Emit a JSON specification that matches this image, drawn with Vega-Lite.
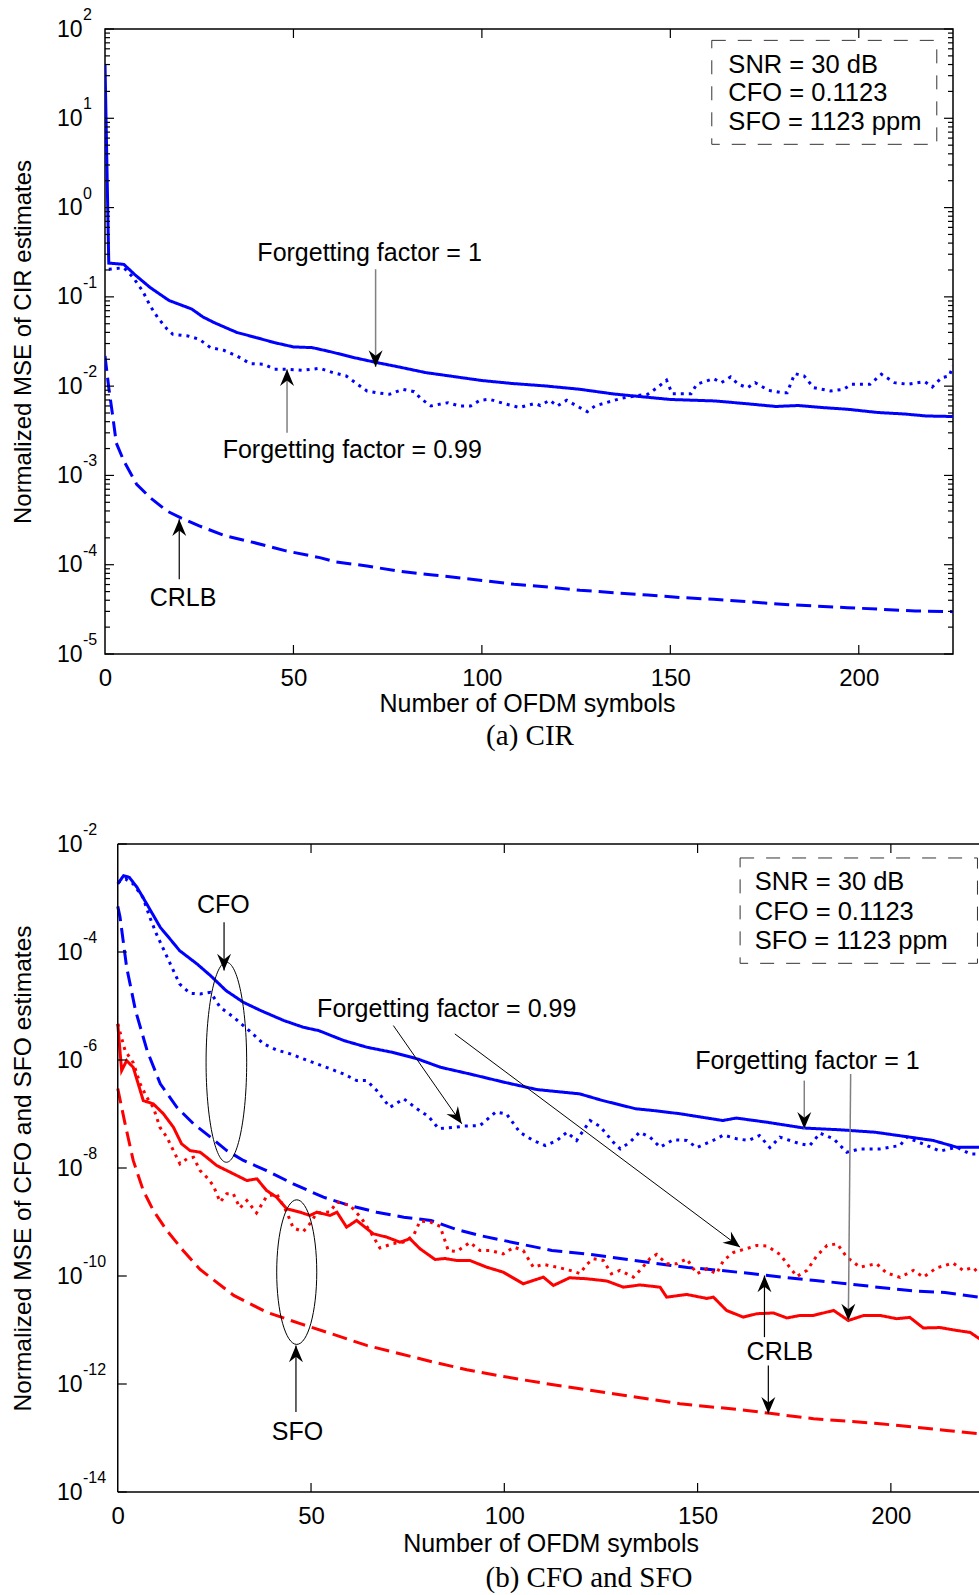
{
  "$schema": "https://vega.github.io/schema/vega-lite/v6.json",
  "background": "white",
  "padding": {"left": 10, "top": 6, "right": 0, "bottom": 0},
  "config": {
    "view": {"stroke": null},
    "font": "Liberation Sans",
    "axis": {"grid": false, "ticks": false, "domain": false, "labelFont": "Liberation Sans", "labelFontSize": 24, "labelColor": "black", "titleFont": "Liberation Sans", "titleFontSize": 24, "titleFontWeight": "normal", "titleColor": "black", "labelFlush": false, "labelOverlap": false},
    "text": {"font": "Liberation Sans", "fontSize": 25, "color": "black"},
    "tick": {"opacity": 1, "color": "black", "thickness": 1.2}
  },
  "columns": 1,
  "align": "none",
  "spacing": 70,
  "datasets": {
    "cir": [
      {"est":"ff1","x":0,"y":40.5},{"est":"ff1","x":1,"y":0.239},{"est":"ff1","x":5,"y":0.231},{"est":"ff1","x":8,"y":0.176},{"est":"ff1","x":12,"y":0.127},{"est":"ff1","x":17,"y":0.091},{"est":"ff1","x":23,"y":0.0731},{"est":"ff1","x":26,"y":0.0595},{"est":"ff1","x":29,"y":0.0514},{"est":"ff1","x":35,"y":0.0399},{"est":"ff1","x":40,"y":0.0351},{"est":"ff1","x":45,"y":0.0307},{"est":"ff1","x":50,"y":0.0275},{"est":"ff1","x":55,"y":0.027},{"est":"ff1","x":60,"y":0.0242},{"est":"ff1","x":66,"y":0.0209},{"est":"ff1","x":72,"y":0.0184},{"est":"ff1","x":78,"y":0.0164},{"est":"ff1","x":85,"y":0.0142},{"est":"ff1","x":92,"y":0.0129},{"est":"ff1","x":100,"y":0.01156},{"est":"ff1","x":108,"y":0.01071},{"est":"ff1","x":117,"y":0.01004},{"est":"ff1","x":126,"y":0.00922},{"est":"ff1","x":135,"y":0.00817},{"est":"ff1","x":143,"y":0.00757},{"est":"ff1","x":150,"y":0.00709},{"est":"ff1","x":158,"y":0.00691},{"est":"ff1","x":162,"y":0.00682},{"est":"ff1","x":170,"y":0.00637},{"est":"ff1","x":178,"y":0.00592},{"est":"ff1","x":184,"y":0.00607},{"est":"ff1","x":190,"y":0.00577},{"est":"ff1","x":197,"y":0.00551},{"est":"ff1","x":205,"y":0.00507},{"est":"ff1","x":212,"y":0.00488},{"est":"ff1","x":218,"y":0.00463},{"est":"ff1","x":225,"y":0.00457},
      {"est":"ff099","x":1,"y":0.204},{"est":"ff099","x":5,"y":0.212},{"est":"ff099","x":7.5,"y":0.164},{"est":"ff099","x":10,"y":0.116},{"est":"ff099","x":12,"y":0.0791},{"est":"ff099","x":14,"y":0.0585},{"est":"ff099","x":16.5,"y":0.0434},{"est":"ff099","x":18,"y":0.0381},{"est":"ff099","x":22,"y":0.0365},{"est":"ff099","x":25,"y":0.0335},{"est":"ff099","x":28,"y":0.027},{"est":"ff099","x":31.5,"y":0.0252},{"est":"ff099","x":35,"y":0.0218},{"est":"ff099","x":38.5,"y":0.0179},{"est":"ff099","x":42,"y":0.0176},{"est":"ff099","x":45,"y":0.0155},{"est":"ff099","x":48,"y":0.0155},{"est":"ff099","x":52.5,"y":0.01507},{"est":"ff099","x":57,"y":0.01585},{"est":"ff099","x":60.5,"y":0.01416},{"est":"ff099","x":64,"y":0.013},{"est":"ff099","x":67,"y":0.0105},{"est":"ff099","x":69.5,"y":0.00883},{"est":"ff099","x":72,"y":0.00845},{"est":"ff099","x":75.5,"y":0.00811},{"est":"ff099","x":79,"y":0.00922},{"est":"ff099","x":82,"y":0.00867},{"est":"ff099","x":84,"y":0.00713},{"est":"ff099","x":86.5,"y":0.006},{"est":"ff099","x":91,"y":0.00653},{"est":"ff099","x":94,"y":0.006},{"est":"ff099","x":97,"y":0.006},{"est":"ff099","x":99.5,"y":0.00695},{"est":"ff099","x":102,"y":0.00713},{"est":"ff099","x":106.5,"y":0.00627},{"est":"ff099","x":110,"y":0.00577},{"est":"ff099","x":114,"y":0.0064},{"est":"ff099","x":115.5,"y":0.00607},{"est":"ff099","x":118,"y":0.00695},{"est":"ff099","x":120,"y":0.006},{"est":"ff099","x":122.5,"y":0.00695},{"est":"ff099","x":126,"y":0.00574},{"est":"ff099","x":128,"y":0.00518},{"est":"ff099","x":130,"y":0.006},{"est":"ff099","x":133,"y":0.00653},{"est":"ff099","x":137,"y":0.00731},{"est":"ff099","x":140.5,"y":0.00776},{"est":"ff099","x":144,"y":0.00811},{"est":"ff099","x":146.5,"y":0.00962},{"est":"ff099","x":149,"y":0.01164},{"est":"ff099","x":150.5,"y":0.00824},{"est":"ff099","x":153,"y":0.00824},{"est":"ff099","x":155.5,"y":0.00824},{"est":"ff099","x":157,"y":0.0105},{"est":"ff099","x":161.5,"y":0.01213},{"est":"ff099","x":163.5,"y":0.01094},{"est":"ff099","x":166,"y":0.01268},{"est":"ff099","x":168,"y":0.0105},{"est":"ff099","x":170.5,"y":0.00962},{"est":"ff099","x":172.5,"y":0.01094},{"est":"ff099","x":176,"y":0.00899},{"est":"ff099","x":179.5,"y":0.00845},{"est":"ff099","x":181,"y":0.00845},{"est":"ff099","x":183,"y":0.0138},{"est":"ff099","x":185.5,"y":0.013},{"est":"ff099","x":188,"y":0.00962},{"est":"ff099","x":192.5,"y":0.00883},{"est":"ff099","x":196,"y":0.00922},{"est":"ff099","x":198,"y":0.0105},{"est":"ff099","x":203,"y":0.0105},{"est":"ff099","x":206,"y":0.0136},{"est":"ff099","x":209.5,"y":0.01094},{"est":"ff099","x":213,"y":0.0105},{"est":"ff099","x":217.5,"y":0.01122},{"est":"ff099","x":219.5,"y":0.00979},{"est":"ff099","x":222,"y":0.01245},{"est":"ff099","x":224,"y":0.013},{"est":"ff099","x":225,"y":0.0168},
      {"est":"crlb","x":0,"y":0.0218},{"est":"crlb","x":1,"y":0.0096},{"est":"crlb","x":2,"y":0.0048},{"est":"crlb","x":3,"y":0.0023},{"est":"crlb","x":5,"y":0.00145},{"est":"crlb","x":8.4,"y":0.000796},{"est":"crlb","x":12,"y":0.000564},{"est":"crlb","x":16.4,"y":0.0004},{"est":"crlb","x":20,"y":0.000337},{"est":"crlb","x":25,"y":0.000272},{"est":"crlb","x":32,"y":0.00021},{"est":"crlb","x":39.5,"y":0.000177},{"est":"crlb","x":48,"y":0.000143},{"est":"crlb","x":57,"y":0.00012},{"est":"crlb","x":61,"y":0.000108},{"est":"crlb","x":69.5,"y":9.68e-5},{"est":"crlb","x":77.5,"y":8.51e-5},{"est":"crlb","x":87,"y":7.68e-5},{"est":"crlb","x":100,"y":6.67e-5},{"est":"crlb","x":108.5,"y":6.04e-5},{"est":"crlb","x":117.5,"y":5.64e-5},{"est":"crlb","x":126,"y":5.18e-5},{"est":"crlb","x":135,"y":4.86e-5},{"est":"crlb","x":144,"y":4.58e-5},{"est":"crlb","x":153,"y":4.28e-5},{"est":"crlb","x":161.5,"y":4.1e-5},{"est":"crlb","x":170.5,"y":3.85e-5},{"est":"crlb","x":179.5,"y":3.61e-5},{"est":"crlb","x":188,"y":3.45e-5},{"est":"crlb","x":197,"y":3.3e-5},{"est":"crlb","x":206,"y":3.17e-5},{"est":"crlb","x":215,"y":3.03e-5},{"est":"crlb","x":225,"y":2.98e-5}
    ],
    "cirTicks": [
      {"side":"left","kind":"major","x":0,"y":1e-5},{"side":"left","kind":"major","x":0,"y":1e-4},{"side":"left","kind":"major","x":0,"y":0.001},{"side":"left","kind":"major","x":0,"y":0.01},{"side":"left","kind":"major","x":0,"y":0.1},{"side":"left","kind":"major","x":0,"y":1},{"side":"left","kind":"major","x":0,"y":10},{"side":"left","kind":"major","x":0,"y":100},
      {"side":"right","kind":"major","x":225,"y":1e-5},{"side":"right","kind":"major","x":225,"y":1e-4},{"side":"right","kind":"major","x":225,"y":0.001},{"side":"right","kind":"major","x":225,"y":0.01},{"side":"right","kind":"major","x":225,"y":0.1},{"side":"right","kind":"major","x":225,"y":1},{"side":"right","kind":"major","x":225,"y":10},{"side":"right","kind":"major","x":225,"y":100},
      {"side":"left","kind":"minor","x":0,"y":2e-5},{"side":"left","kind":"minor","x":0,"y":3e-5},{"side":"left","kind":"minor","x":0,"y":4e-5},{"side":"left","kind":"minor","x":0,"y":5e-5},{"side":"left","kind":"minor","x":0,"y":6e-5},{"side":"left","kind":"minor","x":0,"y":7e-5},{"side":"left","kind":"minor","x":0,"y":8e-5},{"side":"left","kind":"minor","x":0,"y":9e-5},
      {"side":"left","kind":"minor","x":0,"y":2e-4},{"side":"left","kind":"minor","x":0,"y":3e-4},{"side":"left","kind":"minor","x":0,"y":4e-4},{"side":"left","kind":"minor","x":0,"y":5e-4},{"side":"left","kind":"minor","x":0,"y":6e-4},{"side":"left","kind":"minor","x":0,"y":7e-4},{"side":"left","kind":"minor","x":0,"y":8e-4},{"side":"left","kind":"minor","x":0,"y":9e-4},
      {"side":"left","kind":"minor","x":0,"y":0.002},{"side":"left","kind":"minor","x":0,"y":0.003},{"side":"left","kind":"minor","x":0,"y":0.004},{"side":"left","kind":"minor","x":0,"y":0.005},{"side":"left","kind":"minor","x":0,"y":0.006},{"side":"left","kind":"minor","x":0,"y":0.007},{"side":"left","kind":"minor","x":0,"y":0.008},{"side":"left","kind":"minor","x":0,"y":0.009},
      {"side":"left","kind":"minor","x":0,"y":0.02},{"side":"left","kind":"minor","x":0,"y":0.03},{"side":"left","kind":"minor","x":0,"y":0.04},{"side":"left","kind":"minor","x":0,"y":0.05},{"side":"left","kind":"minor","x":0,"y":0.06},{"side":"left","kind":"minor","x":0,"y":0.07},{"side":"left","kind":"minor","x":0,"y":0.08},{"side":"left","kind":"minor","x":0,"y":0.09},
      {"side":"left","kind":"minor","x":0,"y":0.2},{"side":"left","kind":"minor","x":0,"y":0.3},{"side":"left","kind":"minor","x":0,"y":0.4},{"side":"left","kind":"minor","x":0,"y":0.5},{"side":"left","kind":"minor","x":0,"y":0.6},{"side":"left","kind":"minor","x":0,"y":0.7},{"side":"left","kind":"minor","x":0,"y":0.8},{"side":"left","kind":"minor","x":0,"y":0.9},
      {"side":"left","kind":"minor","x":0,"y":2},{"side":"left","kind":"minor","x":0,"y":3},{"side":"left","kind":"minor","x":0,"y":4},{"side":"left","kind":"minor","x":0,"y":5},{"side":"left","kind":"minor","x":0,"y":6},{"side":"left","kind":"minor","x":0,"y":7},{"side":"left","kind":"minor","x":0,"y":8},{"side":"left","kind":"minor","x":0,"y":9},
      {"side":"left","kind":"minor","x":0,"y":20},{"side":"left","kind":"minor","x":0,"y":30},{"side":"left","kind":"minor","x":0,"y":40},{"side":"left","kind":"minor","x":0,"y":50},{"side":"left","kind":"minor","x":0,"y":60},{"side":"left","kind":"minor","x":0,"y":70},{"side":"left","kind":"minor","x":0,"y":80},{"side":"left","kind":"minor","x":0,"y":90},
      {"side":"right","kind":"minor","x":225,"y":2e-5},{"side":"right","kind":"minor","x":225,"y":3e-5},{"side":"right","kind":"minor","x":225,"y":4e-5},{"side":"right","kind":"minor","x":225,"y":5e-5},{"side":"right","kind":"minor","x":225,"y":6e-5},{"side":"right","kind":"minor","x":225,"y":7e-5},{"side":"right","kind":"minor","x":225,"y":8e-5},{"side":"right","kind":"minor","x":225,"y":9e-5},
      {"side":"right","kind":"minor","x":225,"y":2e-4},{"side":"right","kind":"minor","x":225,"y":3e-4},{"side":"right","kind":"minor","x":225,"y":4e-4},{"side":"right","kind":"minor","x":225,"y":5e-4},{"side":"right","kind":"minor","x":225,"y":6e-4},{"side":"right","kind":"minor","x":225,"y":7e-4},{"side":"right","kind":"minor","x":225,"y":8e-4},{"side":"right","kind":"minor","x":225,"y":9e-4},
      {"side":"right","kind":"minor","x":225,"y":0.002},{"side":"right","kind":"minor","x":225,"y":0.003},{"side":"right","kind":"minor","x":225,"y":0.004},{"side":"right","kind":"minor","x":225,"y":0.005},{"side":"right","kind":"minor","x":225,"y":0.006},{"side":"right","kind":"minor","x":225,"y":0.007},{"side":"right","kind":"minor","x":225,"y":0.008},{"side":"right","kind":"minor","x":225,"y":0.009},
      {"side":"right","kind":"minor","x":225,"y":0.02},{"side":"right","kind":"minor","x":225,"y":0.03},{"side":"right","kind":"minor","x":225,"y":0.04},{"side":"right","kind":"minor","x":225,"y":0.05},{"side":"right","kind":"minor","x":225,"y":0.06},{"side":"right","kind":"minor","x":225,"y":0.07},{"side":"right","kind":"minor","x":225,"y":0.08},{"side":"right","kind":"minor","x":225,"y":0.09},
      {"side":"right","kind":"minor","x":225,"y":0.2},{"side":"right","kind":"minor","x":225,"y":0.3},{"side":"right","kind":"minor","x":225,"y":0.4},{"side":"right","kind":"minor","x":225,"y":0.5},{"side":"right","kind":"minor","x":225,"y":0.6},{"side":"right","kind":"minor","x":225,"y":0.7},{"side":"right","kind":"minor","x":225,"y":0.8},{"side":"right","kind":"minor","x":225,"y":0.9},
      {"side":"right","kind":"minor","x":225,"y":2},{"side":"right","kind":"minor","x":225,"y":3},{"side":"right","kind":"minor","x":225,"y":4},{"side":"right","kind":"minor","x":225,"y":5},{"side":"right","kind":"minor","x":225,"y":6},{"side":"right","kind":"minor","x":225,"y":7},{"side":"right","kind":"minor","x":225,"y":8},{"side":"right","kind":"minor","x":225,"y":9},
      {"side":"right","kind":"minor","x":225,"y":20},{"side":"right","kind":"minor","x":225,"y":30},{"side":"right","kind":"minor","x":225,"y":40},{"side":"right","kind":"minor","x":225,"y":50},{"side":"right","kind":"minor","x":225,"y":60},{"side":"right","kind":"minor","x":225,"y":70},{"side":"right","kind":"minor","x":225,"y":80},{"side":"right","kind":"minor","x":225,"y":90},
      {"side":"bottom","kind":"major","x":50,"y":1e-5},{"side":"bottom","kind":"major","x":100,"y":1e-5},{"side":"bottom","kind":"major","x":150,"y":1e-5},{"side":"bottom","kind":"major","x":200,"y":1e-5},
      {"side":"top","kind":"major","x":50,"y":100},{"side":"top","kind":"major","x":100,"y":100},{"side":"top","kind":"major","x":150,"y":100},{"side":"top","kind":"major","x":200,"y":100}
    ],
    "cirExp": [
      {"x":0,"y":1e-5,"exp":"-5"},{"x":0,"y":1e-4,"exp":"-4"},{"x":0,"y":0.001,"exp":"-3"},{"x":0,"y":0.01,"exp":"-2"},
      {"x":0,"y":0.1,"exp":"-1"},{"x":0,"y":1,"exp":"0"},{"x":0,"y":10,"exp":"1"},{"x":0,"y":100,"exp":"2"}
    ],
    "cirBox": [{"x":161,"x2":220.7,"y":74.6,"y2":5.11}],
    "cirInfo": [
      {"x":165.4,"y":32.4,"label":"SNR = 30 dB"},
      {"x":165.4,"y":15.5,"label":"CFO = 0.1123"},
      {"x":165.4,"y":7.4,"label":"SFO = 1123 ppm"}
    ],
    "cirNotes": [
      {"x":70.2,"y":0.252,"label":"Forgetting factor = 1"},
      {"x":65.6,"y":0.00158,"label":"Forgetting factor = 0.99"},
      {"x":20.7,"y":3.45e-5,"label":"CRLB"}
    ],
    "cirArrows": [
      {"arrow":"ff1","end":"tail","x":71.8,"y":0.204},{"arrow":"ff1","end":"tip","x":71.8,"y":0.0164},
      {"arrow":"ff099","end":"tail","x":48.3,"y":0.00301},{"arrow":"ff099","end":"tip","x":48.3,"y":0.01545},
      {"arrow":"crlb","end":"tail","x":19.7,"y":6.87e-5},{"arrow":"crlb","end":"tip","x":19.7,"y":3.23e-4}
    ],
    "cfosfo": [
      {"param":"CFO","est":"ff1","x":0,"y":1.82e-3},{"param":"CFO","est":"ff1","x":1.5,"y":2.59e-3},{"param":"CFO","est":"ff1","x":3,"y":2.41e-3},{"param":"CFO","est":"ff1","x":5,"y":1.57e-3},{"param":"CFO","est":"ff1","x":7.5,"y":7.76e-4},{"param":"CFO","est":"ff1","x":11,"y":2.86e-4},{"param":"CFO","est":"ff1","x":13.5,"y":1.75e-4},{"param":"CFO","est":"ff1","x":16,"y":1.06e-4},{"param":"CFO","est":"ff1","x":20.5,"y":6.01e-5},{"param":"CFO","est":"ff1","x":24,"y":3.65e-5},{"param":"CFO","est":"ff1","x":28,"y":1.93e-5},{"param":"CFO","est":"ff1","x":32.5,"y":1.17e-5},{"param":"CFO","est":"ff1","x":37,"y":8.22e-6},{"param":"CFO","est":"ff1","x":43,"y":5.37e-6},{"param":"CFO","est":"ff1","x":48,"y":4.04e-6},{"param":"CFO","est":"ff1","x":52,"y":3.5e-6},{"param":"CFO","est":"ff1","x":58.5,"y":2.29e-6},{"param":"CFO","est":"ff1","x":64.5,"y":1.72e-6},{"param":"CFO","est":"ff1","x":71,"y":1.39e-6},{"param":"CFO","est":"ff1","x":77.5,"y":1.05e-6},{"param":"CFO","est":"ff1","x":83.5,"y":7.33e-7},{"param":"CFO","est":"ff1","x":91,"y":5.53e-7},{"param":"CFO","est":"ff1","x":100,"y":3.87e-7},{"param":"CFO","est":"ff1","x":108.5,"y":2.83e-7},{"param":"CFO","est":"ff1","x":119.5,"y":2.36e-7},{"param":"CFO","est":"ff1","x":125.5,"y":1.77e-7},{"param":"CFO","est":"ff1","x":134,"y":1.25e-7},{"param":"CFO","est":"ff1","x":138.5,"y":1.16e-7},{"param":"CFO","est":"ff1","x":145.5,"y":1.01e-7},{"param":"CFO","est":"ff1","x":156.5,"y":7.57e-8},{"param":"CFO","est":"ff1","x":160,"y":8.41e-8},{"param":"CFO","est":"ff1","x":168,"y":7.03e-8},{"param":"CFO","est":"ff1","x":177.5,"y":5.5e-8},{"param":"CFO","est":"ff1","x":187,"y":5.09e-8},{"param":"CFO","est":"ff1","x":196,"y":4.59e-8},{"param":"CFO","est":"ff1","x":205,"y":3.72e-8},{"param":"CFO","est":"ff1","x":211,"y":3.23e-8},{"param":"CFO","est":"ff1","x":217,"y":2.43e-8},{"param":"CFO","est":"ff1","x":225,"y":2.43e-8},
      {"param":"CFO","est":"ff099","x":0,"y":1.95e-3},{"param":"CFO","est":"ff099","x":2,"y":2.25e-3},{"param":"CFO","est":"ff099","x":4,"y":1.82e-3},{"param":"CFO","est":"ff099","x":6.5,"y":1.03e-3},{"param":"CFO","est":"ff099","x":8.3,"y":4.38e-4},{"param":"CFO","est":"ff099","x":10,"y":2.16e-4},{"param":"CFO","est":"ff099","x":12,"y":1.06e-4},{"param":"CFO","est":"ff099","x":14,"y":5.2e-5},{"param":"CFO","est":"ff099","x":16,"y":2.56e-5},{"param":"CFO","est":"ff099","x":18.7,"y":1.72e-5},{"param":"CFO","est":"ff099","x":21.3,"y":1.67e-5},{"param":"CFO","est":"ff099","x":24,"y":1.79e-5},{"param":"CFO","est":"ff099","x":26.5,"y":9.46e-6},{"param":"CFO","est":"ff099","x":30,"y":6.18e-6},{"param":"CFO","est":"ff099","x":34,"y":3.5e-6},{"param":"CFO","est":"ff099","x":37.7,"y":1.99e-6},{"param":"CFO","est":"ff099","x":41,"y":1.54e-6},{"param":"CFO","est":"ff099","x":44.6,"y":1.3e-6},{"param":"CFO","est":"ff099","x":48,"y":1.05e-6},{"param":"CFO","est":"ff099","x":51.5,"y":8.48e-7},{"param":"CFO","est":"ff099","x":55,"y":6.85e-7},{"param":"CFO","est":"ff099","x":58.4,"y":5.53e-7},{"param":"CFO","est":"ff099","x":61.8,"y":4.16e-7},{"param":"CFO","est":"ff099","x":64.4,"y":4.16e-7},{"param":"CFO","est":"ff099","x":67,"y":2.72e-7},{"param":"CFO","est":"ff099","x":70.4,"y":1.33e-7},{"param":"CFO","est":"ff099","x":74,"y":1.91e-7},{"param":"CFO","est":"ff099","x":77.4,"y":1.25e-7},{"param":"CFO","est":"ff099","x":80.4,"y":8.97e-8},{"param":"CFO","est":"ff099","x":83,"y":5.38e-8},{"param":"CFO","est":"ff099","x":86.6,"y":5.61e-8},{"param":"CFO","est":"ff099","x":89.7,"y":5.98e-8},{"param":"CFO","est":"ff099","x":93.7,"y":6.11e-8},{"param":"CFO","est":"ff099","x":97.8,"y":1.09e-7},{"param":"CFO","est":"ff099","x":100.6,"y":9.98e-8},{"param":"CFO","est":"ff099","x":104,"y":4.59e-8},{"param":"CFO","est":"ff099","x":107.5,"y":3.23e-8},{"param":"CFO","est":"ff099","x":110.6,"y":2.61e-8},{"param":"CFO","est":"ff099","x":113.6,"y":3.23e-8},{"param":"CFO","est":"ff099","x":116.2,"y":4.59e-8},{"param":"CFO","est":"ff099","x":118.7,"y":3.23e-8},{"param":"CFO","est":"ff099","x":122.2,"y":7.57e-8},{"param":"CFO","est":"ff099","x":124.8,"y":5.86e-8},{"param":"CFO","est":"ff099","x":128.2,"y":3.0e-8},{"param":"CFO","est":"ff099","x":130,"y":2.26e-8},{"param":"CFO","est":"ff099","x":132.5,"y":3.0e-8},{"param":"CFO","est":"ff099","x":135,"y":4.59e-8},{"param":"CFO","est":"ff099","x":137.7,"y":3.72e-8},{"param":"CFO","est":"ff099","x":140.3,"y":2.43e-8},{"param":"CFO","est":"ff099","x":143.7,"y":3.33e-8},{"param":"CFO","est":"ff099","x":147.2,"y":3.23e-8},{"param":"CFO","est":"ff099","x":149.8,"y":2.39e-8},{"param":"CFO","est":"ff099","x":154,"y":3.23e-8},{"param":"CFO","est":"ff099","x":156.7,"y":4.07e-8},{"param":"CFO","est":"ff099","x":160.2,"y":3.47e-8},{"param":"CFO","est":"ff099","x":163.2,"y":3.23e-8},{"param":"CFO","est":"ff099","x":166,"y":3.99e-8},{"param":"CFO","est":"ff099","x":168.7,"y":2.39e-8},{"param":"CFO","est":"ff099","x":171.3,"y":3.72e-8},{"param":"CFO","est":"ff099","x":176.5,"y":2.81e-8},{"param":"CFO","est":"ff099","x":179,"y":2.61e-8},{"param":"CFO","est":"ff099","x":181.7,"y":4.4e-8},{"param":"CFO","est":"ff099","x":185.2,"y":3.47e-8},{"param":"CFO","est":"ff099","x":188.6,"y":1.96e-8},{"param":"CFO","est":"ff099","x":192,"y":2.26e-8},{"param":"CFO","est":"ff099","x":197.2,"y":2.26e-8},{"param":"CFO","est":"ff099","x":202.4,"y":2.61e-8},{"param":"CFO","est":"ff099","x":204,"y":3.72e-8},{"param":"CFO","est":"ff099","x":209.3,"y":2.61e-8},{"param":"CFO","est":"ff099","x":212.7,"y":2.05e-8},{"param":"CFO","est":"ff099","x":217,"y":2.43e-8},{"param":"CFO","est":"ff099","x":220.5,"y":1.83e-8},{"param":"CFO","est":"ff099","x":225,"y":1.8e-8},
      {"param":"CFO","est":"crlb","x":0,"y":7.0e-4},{"param":"CFO","est":"crlb","x":0.6,"y":4.38e-4},{"param":"CFO","est":"crlb","x":2.3,"y":5.2e-5},{"param":"CFO","est":"crlb","x":4.6,"y":8.22e-6},{"param":"CFO","est":"crlb","x":7.6,"y":1.49e-6},{"param":"CFO","est":"crlb","x":11,"y":3.61e-7},{"param":"CFO","est":"crlb","x":15.3,"y":1.33e-7},{"param":"CFO","est":"crlb","x":19.6,"y":6.57e-8},{"param":"CFO","est":"crlb","x":24,"y":3.72e-8},{"param":"CFO","est":"crlb","x":28.2,"y":2.1e-8},{"param":"CFO","est":"crlb","x":32.5,"y":1.38e-8},{"param":"CFO","est":"crlb","x":38.5,"y":8.98e-9},{"param":"CFO","est":"crlb","x":45.4,"y":5.09e-9},{"param":"CFO","est":"crlb","x":53.2,"y":2.88e-9},{"param":"CFO","est":"crlb","x":60,"y":2.02e-9},{"param":"CFO","est":"crlb","x":67,"y":1.52e-9},{"param":"CFO","est":"crlb","x":74,"y":1.23e-9},{"param":"CFO","est":"crlb","x":81,"y":1.07e-9},{"param":"CFO","est":"crlb","x":87.7,"y":7.26e-10},{"param":"CFO","est":"crlb","x":93.7,"y":5.62e-10},{"param":"CFO","est":"crlb","x":103.5,"y":4.0e-10},{"param":"CFO","est":"crlb","x":112.3,"y":2.97e-10},{"param":"CFO","est":"crlb","x":121.2,"y":2.56e-10},{"param":"CFO","est":"crlb","x":130,"y":2.11e-10},{"param":"CFO","est":"crlb","x":138.6,"y":1.73e-10},{"param":"CFO","est":"crlb","x":147.4,"y":1.44e-10},{"param":"CFO","est":"crlb","x":155.8,"y":1.27e-10},{"param":"CFO","est":"crlb","x":163.8,"y":1.11e-10},{"param":"CFO","est":"crlb","x":172.5,"y":9.4e-11},{"param":"CFO","est":"crlb","x":180.5,"y":8.26e-11},{"param":"CFO","est":"crlb","x":189.2,"y":7.13e-11},{"param":"CFO","est":"crlb","x":197.2,"y":6.14e-11},{"param":"CFO","est":"crlb","x":206,"y":5.28e-11},{"param":"CFO","est":"crlb","x":214,"y":4.95e-11},{"param":"CFO","est":"crlb","x":222.8,"y":4.06e-11},{"param":"CFO","est":"crlb","x":225,"y":3.9e-11},
      {"param":"SFO","est":"ff1","x":0,"y":4.67e-6},{"param":"SFO","est":"ff1","x":1,"y":6.37e-7},{"param":"SFO","est":"ff1","x":2.3,"y":9.75e-7},{"param":"SFO","est":"ff1","x":4,"y":7.33e-7},{"param":"SFO","est":"ff1","x":6.6,"y":1.77e-7},{"param":"SFO","est":"ff1","x":9.2,"y":1.54e-7},{"param":"SFO","est":"ff1","x":11.8,"y":1.01e-7},{"param":"SFO","est":"ff1","x":14.4,"y":5.69e-8},{"param":"SFO","est":"ff1","x":16.5,"y":2.81e-8},{"param":"SFO","est":"ff1","x":18.7,"y":2.1e-8},{"param":"SFO","est":"ff1","x":21.3,"y":1.96e-8},{"param":"SFO","est":"ff1","x":23,"y":1.58e-8},{"param":"SFO","est":"ff1","x":25.6,"y":1.11e-8},{"param":"SFO","est":"ff1","x":28.2,"y":8.98e-9},{"param":"SFO","est":"ff1","x":30.8,"y":7.26e-9},{"param":"SFO","est":"ff1","x":33.4,"y":5.86e-9},{"param":"SFO","est":"ff1","x":36,"y":6.31e-9},{"param":"SFO","est":"ff1","x":38.5,"y":3.83e-9},{"param":"SFO","est":"ff1","x":41.1,"y":2.88e-9},{"param":"SFO","est":"ff1","x":43.7,"y":1.75e-9},{"param":"SFO","est":"ff1","x":47.2,"y":1.52e-9},{"param":"SFO","est":"ff1","x":49.7,"y":1.32e-9},{"param":"SFO","est":"ff1","x":51.5,"y":1.52e-9},{"param":"SFO","est":"ff1","x":54.9,"y":1.32e-9},{"param":"SFO","est":"ff1","x":56.7,"y":1.52e-9},{"param":"SFO","est":"ff1","x":59.2,"y":8.02e-10},{"param":"SFO","est":"ff1","x":61.8,"y":1.07e-9},{"param":"SFO","est":"ff1","x":66.1,"y":6.05e-10},{"param":"SFO","est":"ff1","x":69.6,"y":5.24e-10},{"param":"SFO","est":"ff1","x":73,"y":4.23e-10},{"param":"SFO","est":"ff1","x":75.6,"y":4.89e-10},{"param":"SFO","est":"ff1","x":78.2,"y":3.19e-10},{"param":"SFO","est":"ff1","x":82.1,"y":2.02e-10},{"param":"SFO","est":"ff1","x":84.6,"y":2.11e-10},{"param":"SFO","est":"ff1","x":87.7,"y":1.94e-10},{"param":"SFO","est":"ff1","x":91.1,"y":1.94e-10},{"param":"SFO","est":"ff1","x":95.4,"y":1.46e-10},{"param":"SFO","est":"ff1","x":99.7,"y":1.18e-10},{"param":"SFO","est":"ff1","x":104.9,"y":7.18e-11},{"param":"SFO","est":"ff1","x":110.1,"y":9.53e-11},{"param":"SFO","est":"ff1","x":112.7,"y":6.68e-11},{"param":"SFO","est":"ff1","x":116.9,"y":9.27e-11},{"param":"SFO","est":"ff1","x":121.3,"y":8.89e-11},{"param":"SFO","est":"ff1","x":126.5,"y":8.09e-11},{"param":"SFO","est":"ff1","x":130.8,"y":6.21e-11},{"param":"SFO","est":"ff1","x":135.1,"y":6.83e-11},{"param":"SFO","est":"ff1","x":140.3,"y":6.21e-11},{"param":"SFO","est":"ff1","x":142,"y":4.06e-11},{"param":"SFO","est":"ff1","x":147.2,"y":4.55e-11},{"param":"SFO","est":"ff1","x":152.4,"y":3.84e-11},{"param":"SFO","est":"ff1","x":154.1,"y":4.06e-11},{"param":"SFO","est":"ff1","x":157.5,"y":2.3e-11},{"param":"SFO","est":"ff1","x":161.8,"y":1.73e-11},{"param":"SFO","est":"ff1","x":165.3,"y":2.0e-11},{"param":"SFO","est":"ff1","x":169.6,"y":2.07e-11},{"param":"SFO","est":"ff1","x":173.1,"y":1.67e-11},{"param":"SFO","est":"ff1","x":176.5,"y":1.86e-11},{"param":"SFO","est":"ff1","x":179.9,"y":1.86e-11},{"param":"SFO","est":"ff1","x":185.2,"y":2.3e-11},{"param":"SFO","est":"ff1","x":189,"y":1.5e-11},{"param":"SFO","est":"ff1","x":193,"y":1.86e-11},{"param":"SFO","est":"ff1","x":197.2,"y":1.86e-11},{"param":"SFO","est":"ff1","x":201.5,"y":1.62e-11},{"param":"SFO","est":"ff1","x":204.9,"y":1.71e-11},{"param":"SFO","est":"ff1","x":208.4,"y":1.09e-11},{"param":"SFO","est":"ff1","x":212.7,"y":1.11e-11},{"param":"SFO","est":"ff1","x":217,"y":9.82e-12},{"param":"SFO","est":"ff1","x":220.5,"y":9.02e-12},{"param":"SFO","est":"ff1","x":222.8,"y":6.98e-12},{"param":"SFO","est":"ff1","x":225,"y":6.5e-12},
      {"param":"SFO","est":"ff099","x":0,"y":4.67e-6},{"param":"SFO","est":"ff099","x":1.9,"y":1.49e-6},{"param":"SFO","est":"ff099","x":4,"y":8.95e-7},{"param":"SFO","est":"ff099","x":5.8,"y":3.61e-7},{"param":"SFO","est":"ff099","x":7.5,"y":2.04e-7},{"param":"SFO","est":"ff099","x":9.2,"y":1.33e-7},{"param":"SFO","est":"ff099","x":10.9,"y":5.69e-8},{"param":"SFO","est":"ff099","x":12.7,"y":3.72e-8},{"param":"SFO","est":"ff099","x":14.4,"y":2.1e-8},{"param":"SFO","est":"ff099","x":16.1,"y":1.19e-8},{"param":"SFO","est":"ff099","x":17.9,"y":1.48e-8},{"param":"SFO","est":"ff099","x":19.6,"y":1.58e-8},{"param":"SFO","est":"ff099","x":21.3,"y":8.98e-9},{"param":"SFO","est":"ff099","x":23,"y":6.75e-9},{"param":"SFO","est":"ff099","x":24.7,"y":4.74e-9},{"param":"SFO","est":"ff099","x":26.5,"y":2.34e-9},{"param":"SFO","est":"ff099","x":28.2,"y":3.33e-9},{"param":"SFO","est":"ff099","x":29.9,"y":3.33e-9},{"param":"SFO","est":"ff099","x":31.6,"y":1.82e-9},{"param":"SFO","est":"ff099","x":33.4,"y":2.5e-9},{"param":"SFO","est":"ff099","x":35.9,"y":1.47e-9},{"param":"SFO","est":"ff099","x":38.5,"y":2.96e-9},{"param":"SFO","est":"ff099","x":41.1,"y":3.33e-9},{"param":"SFO","est":"ff099","x":43.7,"y":1.53e-9},{"param":"SFO","est":"ff099","x":45.4,"y":7.74e-10},{"param":"SFO","est":"ff099","x":48,"y":6.67e-10},{"param":"SFO","est":"ff099","x":49.7,"y":9.27e-10},{"param":"SFO","est":"ff099","x":51.5,"y":1.47e-9},{"param":"SFO","est":"ff099","x":54.9,"y":1.53e-9},{"param":"SFO","est":"ff099","x":56.7,"y":2.34e-9},{"param":"SFO","est":"ff099","x":60.1,"y":2.02e-9},{"param":"SFO","est":"ff099","x":63.1,"y":1.16e-9},{"param":"SFO","est":"ff099","x":66.1,"y":5.4e-10},{"param":"SFO","est":"ff099","x":67.8,"y":3.3e-10},{"param":"SFO","est":"ff099","x":71.3,"y":4.0e-10},{"param":"SFO","est":"ff099","x":73.9,"y":4.23e-10},{"param":"SFO","est":"ff099","x":76.5,"y":5.62e-10},{"param":"SFO","est":"ff099","x":78.2,"y":1.04e-9},{"param":"SFO","est":"ff099","x":80.8,"y":1.0e-9},{"param":"SFO","est":"ff099","x":83.4,"y":8.26e-10},{"param":"SFO","est":"ff099","x":85.5,"y":2.97e-10},{"param":"SFO","est":"ff099","x":87.7,"y":2.84e-10},{"param":"SFO","est":"ff099","x":91.1,"y":4.18e-10},{"param":"SFO","est":"ff099","x":93.7,"y":2.97e-10},{"param":"SFO","est":"ff099","x":96.3,"y":2.97e-10},{"param":"SFO","est":"ff099","x":99.7,"y":2.56e-10},{"param":"SFO","est":"ff099","x":102.5,"y":3.42e-10},{"param":"SFO","est":"ff099","x":104.9,"y":2.97e-10},{"param":"SFO","est":"ff099","x":107.5,"y":1.46e-10},{"param":"SFO","est":"ff099","x":110.1,"y":1.64e-10},{"param":"SFO","est":"ff099","x":113.6,"y":1.46e-10},{"param":"SFO","est":"ff099","x":117,"y":1.27e-10},{"param":"SFO","est":"ff099","x":119.6,"y":1.11e-10},{"param":"SFO","est":"ff099","x":121.3,"y":1.64e-10},{"param":"SFO","est":"ff099","x":123.1,"y":2.08e-10},{"param":"SFO","est":"ff099","x":125.6,"y":1.94e-10},{"param":"SFO","est":"ff099","x":127.7,"y":1.1e-10},{"param":"SFO","est":"ff099","x":129.9,"y":1.27e-10},{"param":"SFO","est":"ff099","x":133.4,"y":9.53e-11},{"param":"SFO","est":"ff099","x":135.1,"y":1.27e-10},{"param":"SFO","est":"ff099","x":137.7,"y":2.11e-10},{"param":"SFO","est":"ff099","x":139.4,"y":2.51e-10},{"param":"SFO","est":"ff099","x":142,"y":1.69e-10},{"param":"SFO","est":"ff099","x":144.6,"y":1.69e-10},{"param":"SFO","est":"ff099","x":147.2,"y":2.08e-10},{"param":"SFO","est":"ff099","x":149.8,"y":1.1e-10},{"param":"SFO","est":"ff099","x":152.4,"y":1.36e-10},{"param":"SFO","est":"ff099","x":154.9,"y":1.1e-10},{"param":"SFO","est":"ff099","x":156.7,"y":1.94e-10},{"param":"SFO","est":"ff099","x":159.3,"y":2.73e-10},{"param":"SFO","est":"ff099","x":161.9,"y":3.1e-10},{"param":"SFO","est":"ff099","x":165.3,"y":3.67e-10},{"param":"SFO","est":"ff099","x":168,"y":3.6e-10},{"param":"SFO","est":"ff099","x":171.3,"y":2.51e-10},{"param":"SFO","est":"ff099","x":173.8,"y":1.46e-10},{"param":"SFO","est":"ff099","x":175.7,"y":9.82e-11},{"param":"SFO","est":"ff099","x":178.3,"y":1.27e-10},{"param":"SFO","est":"ff099","x":180.9,"y":2.4e-10},{"param":"SFO","est":"ff099","x":183.5,"y":3.67e-10},{"param":"SFO","est":"ff099","x":186.1,"y":3.95e-10},{"param":"SFO","est":"ff099","x":188.6,"y":2.23e-10},{"param":"SFO","est":"ff099","x":192,"y":1.46e-10},{"param":"SFO","est":"ff099","x":196.3,"y":1.69e-10},{"param":"SFO","est":"ff099","x":198.9,"y":1.14e-10},{"param":"SFO","est":"ff099","x":202.4,"y":9.4e-11},{"param":"SFO","est":"ff099","x":205.8,"y":1.27e-10},{"param":"SFO","est":"ff099","x":208.4,"y":9.53e-11},{"param":"SFO","est":"ff099","x":211.8,"y":1.41e-10},{"param":"SFO","est":"ff099","x":216.1,"y":1.74e-10},{"param":"SFO","est":"ff099","x":218.7,"y":1.27e-10},{"param":"SFO","est":"ff099","x":221.3,"y":1.44e-10},{"param":"SFO","est":"ff099","x":222.8,"y":1.1e-10},{"param":"SFO","est":"ff099","x":225,"y":1.1e-10},
      {"param":"SFO","est":"crlb","x":0,"y":2.96e-7},{"param":"SFO","est":"crlb","x":1.9,"y":6.57e-8},{"param":"SFO","est":"crlb","x":4,"y":1.38e-8},{"param":"SFO","est":"crlb","x":6.6,"y":3.83e-9},{"param":"SFO","est":"crlb","x":9.2,"y":1.63e-9},{"param":"SFO","est":"crlb","x":12.7,"y":6.97e-10},{"param":"SFO","est":"crlb","x":16.9,"y":2.97e-10},{"param":"SFO","est":"crlb","x":21.3,"y":1.32e-10},{"param":"SFO","est":"crlb","x":30,"y":4.37e-11},{"param":"SFO","est":"crlb","x":38.5,"y":2.14e-11},{"param":"SFO","est":"crlb","x":47.2,"y":1.31e-11},{"param":"SFO","est":"crlb","x":55.8,"y":8.28e-12},{"param":"SFO","est":"crlb","x":64.4,"y":5.18e-12},{"param":"SFO","est":"crlb","x":73,"y":3.64e-12},{"param":"SFO","est":"crlb","x":81.7,"y":2.54e-12},{"param":"SFO","est":"crlb","x":90.3,"y":1.84e-12},{"param":"SFO","est":"crlb","x":99.7,"y":1.38e-12},{"param":"SFO","est":"crlb","x":111,"y":1.01e-12},{"param":"SFO","est":"crlb","x":128.2,"y":6.61e-13},{"param":"SFO","est":"crlb","x":145.4,"y":4.32e-13},{"param":"SFO","est":"crlb","x":162.7,"y":3.24e-13},{"param":"SFO","est":"crlb","x":168.7,"y":2.86e-13},{"param":"SFO","est":"crlb","x":180,"y":2.28e-13},{"param":"SFO","est":"crlb","x":197.2,"y":1.84e-13},{"param":"SFO","est":"crlb","x":214.4,"y":1.38e-13},{"param":"SFO","est":"crlb","x":222.8,"y":1.2e-13},{"param":"SFO","est":"crlb","x":225,"y":1.17e-13}
    ],
    "cfoTicks": [
      {"side":"left","x":0,"y":1e-14},{"side":"left","x":0,"y":1e-12},{"side":"left","x":0,"y":1e-10},{"side":"left","x":0,"y":1e-8},{"side":"left","x":0,"y":1e-6},{"side":"left","x":0,"y":1e-4},{"side":"left","x":0,"y":0.01},
      {"side":"bottom","x":50,"y":1e-14},{"side":"bottom","x":100,"y":1e-14},{"side":"bottom","x":150,"y":1e-14},{"side":"bottom","x":200,"y":1e-14},
      {"side":"top","x":50,"y":0.01},{"side":"top","x":100,"y":0.01},{"side":"top","x":150,"y":0.01},{"side":"top","x":200,"y":0.01}
    ],
    "cfoExp": [
      {"x":0,"y":1e-14,"exp":"-14"},{"x":0,"y":1e-12,"exp":"-12"},{"x":0,"y":1e-10,"exp":"-10"},{"x":0,"y":1e-8,"exp":"-8"},
      {"x":0,"y":1e-6,"exp":"-6"},{"x":0,"y":1e-4,"exp":"-4"},{"x":0,"y":0.01,"exp":"-2"}
    ],
    "cfoFrame": [
      {"x":0,"x2":222.8,"y":0.01,"y2":0.01},
      {"x":0,"x2":0,"y":1e-14,"y2":0.01},
      {"x":0,"x2":222.8,"y":1e-14,"y2":1e-14}
    ],
    "cfoBox": [{"x":161,"x2":222.4,"y":5.51e-3,"y2":6.17e-5}],
    "cfoInfo": [
      {"x":164.8,"y":1.43e-3,"label":"SNR = 30 dB"},
      {"x":164.8,"y":3.97e-4,"label":"CFO = 0.1123"},
      {"x":164.8,"y":1.14e-4,"label":"SFO = 1123 ppm"}
    ],
    "cfoNotes": [
      {"x":27.3,"y":5.2e-4,"label":"CFO"},
      {"x":46.5,"y":9.31e-14,"label":"SFO"},
      {"x":85.1,"y":6.18e-6,"label":"Forgetting factor = 0.99"},
      {"x":178.4,"y":6.85e-7,"label":"Forgetting factor = 1"},
      {"x":171.3,"y":2.74e-12,"label":"CRLB"}
    ],
    "cfoArrows": [
      {"arrow":"cfo","end":"tail","x":27.5,"y":3.54e-4},{"arrow":"cfo","end":"tip","x":27.5,"y":4.52e-5},
      {"arrow":"sfo","end":"tail","x":46.1,"y":3.02e-13},{"arrow":"sfo","end":"tip","x":46.1,"y":5.18e-12},
      {"arrow":"ff099-cfo","end":"tail","x":71.3,"y":4.34e-6},{"arrow":"ff099-cfo","end":"tip","x":89.0,"y":6.57e-8},
      {"arrow":"ff099-sfo","end":"tail","x":87.2,"y":3.04e-6},{"arrow":"ff099-sfo","end":"tip","x":161.0,"y":3.42e-10},
      {"arrow":"ff1-cfo","end":"tail","x":177.6,"y":4.16e-7},{"arrow":"ff1-cfo","end":"tip","x":177.6,"y":5.31e-8},
      {"arrow":"ff1-sfo","end":"tail","x":189.6,"y":5.53e-7},{"arrow":"ff1-sfo","end":"tip","x":189.0,"y":1.5e-11},
      {"arrow":"crlb-cfo","end":"tail","x":167.3,"y":7.38e-12},{"arrow":"crlb-cfo","end":"tip","x":167.3,"y":1.02e-10},
      {"arrow":"crlb-sfo","end":"tail","x":168.3,"y":2.21e-12},{"arrow":"crlb-sfo","end":"tip","x":168.3,"y":2.82e-13}
    ],
    "cfoRings": [
      {"note":"CFO","x":28.1,"y":9.08e-7},
      {"note":"SFO","x":46.3,"y":1.18e-10}
    ]
  },
  "concat": [
    {
      "width": 848,
      "height": 625,
      "view": {"stroke": "black", "strokeWidth": 1.5},
      "title": {"text": "(a) CIR", "orient": "bottom", "anchor": "middle", "frame": "group", "font": "Liberation Serif", "fontSize": 29, "fontWeight": "normal", "color": "black", "baseline": "alphabetic", "offset": 28, "dx": 1},
      "encoding": {
        "x": {"field": "x", "type": "quantitative", "scale": {"domain": [0, 225], "nice": false, "zero": false},
              "axis": {"values": [0, 50, 100, 150, 200], "labelPadding": 12, "title": "Number of OFDM symbols", "titleFontSize": 25, "titleX": 422, "titleY": 57.7, "titleBaseline": "alphabetic"}},
        "y": {"field": "y", "type": "quantitative", "scale": {"type": "log", "domain": [0.00001, 100], "nice": false},
              "axis": {"values": [0.00001, 0.0001, 0.001, 0.01, 0.1, 1, 10, 100], "labelPadding": 23, "labelFontSize": 23, "labelExpr": "'10'",
                       "title": "Normalized MSE of CIR estimates", "titleX": -75, "titleY": 312.5, "titleBaseline": "alphabetic"}}
      },
      "layer": [
        {"data": {"name": "cir"}, "mark": {"type": "line", "clip": true, "strokeWidth": 3, "color": "#0000ff"},
         "encoding": {"strokeDash": {"field": "est", "type": "nominal", "scale": {"domain": ["ff1", "ff099", "crlb"], "range": [[1, 0], [3, 5], [15, 7]]}, "legend": null}}},
        {"data": {"name": "cirTicks"}, "transform": [{"filter": "datum.side == 'left' && datum.kind == 'major'"}],
         "mark": {"type": "tick", "orient": "horizontal", "size": 9, "xOffset": 4.5}},
        {"data": {"name": "cirTicks"}, "transform": [{"filter": "datum.side == 'left' && datum.kind == 'minor'"}],
         "mark": {"type": "tick", "orient": "horizontal", "size": 5, "xOffset": 2.5}},
        {"data": {"name": "cirTicks"}, "transform": [{"filter": "datum.side == 'right' && datum.kind == 'major'"}],
         "mark": {"type": "tick", "orient": "horizontal", "size": 9, "xOffset": -4.5}},
        {"data": {"name": "cirTicks"}, "transform": [{"filter": "datum.side == 'right' && datum.kind == 'minor'"}],
         "mark": {"type": "tick", "orient": "horizontal", "size": 5, "xOffset": -2.5}},
        {"data": {"name": "cirTicks"}, "transform": [{"filter": "datum.side == 'bottom'"}],
         "mark": {"type": "tick", "orient": "vertical", "size": 9, "yOffset": -4.5}},
        {"data": {"name": "cirTicks"}, "transform": [{"filter": "datum.side == 'top'"}],
         "mark": {"type": "tick", "orient": "vertical", "size": 9, "yOffset": 4.5}},
        {"data": {"name": "cirExp"},
         "mark": {"type": "text", "align": "left", "baseline": "alphabetic", "fontSize": 16, "dx": -22, "dy": -9},
         "encoding": {"text": {"field": "exp"}}},
        {"data": {"name": "cirBox"},
         "mark": {"type": "rect", "fillOpacity": 0, "stroke": "#333333", "strokeWidth": 1, "strokeDash": [14, 12]},
         "encoding": {"x2": {"field": "x2"}, "y2": {"field": "y2"}}},
        {"data": {"name": "cirInfo"},
         "mark": {"type": "text", "align": "left", "baseline": "alphabetic", "fontSize": 25.5},
         "encoding": {"text": {"field": "label"}}},
        {"data": {"name": "cirNotes"},
         "mark": {"type": "text", "align": "center", "baseline": "alphabetic", "fontSize": 25},
         "encoding": {"text": {"field": "label"}}},
        {"data": {"name": "cirArrows"}, "transform": [{"filter": {"field": "arrow", "oneOf": ["ff1", "ff099"]}}],
         "mark": {"type": "line", "color": "#808080", "strokeWidth": 1.5},
         "encoding": {"detail": {"field": "arrow"}}},
        {"data": {"name": "cirArrows"}, "transform": [{"filter": {"field": "arrow", "equal": "crlb"}}],
         "mark": {"type": "line", "color": "black", "strokeWidth": 1.2},
         "encoding": {"detail": {"field": "arrow"}}},
        {"data": {"name": "cirArrows"}, "transform": [{"filter": "datum.end == 'tip' && datum.arrow == 'ff1'"}],
         "mark": {"type": "point", "shape": "M0,0L0.5,1.2L0,0.8L-0.5,1.2Z", "size": 784, "filled": true, "color": "black", "opacity": 1, "strokeWidth": 0, "angle": 180}},
        {"data": {"name": "cirArrows"}, "transform": [{"filter": "datum.end == 'tip' && datum.arrow != 'ff1'"}],
         "mark": {"type": "point", "shape": "M0,0L0.5,1.2L0,0.8L-0.5,1.2Z", "size": 784, "filled": true, "color": "black", "opacity": 1, "strokeWidth": 0, "angle": 0}}
      ]
    },
    {
      "width": 874,
      "height": 648,
      "title": {"text": "(b) CFO and SFO", "orient": "bottom", "anchor": "middle", "frame": "group", "font": "Liberation Serif", "fontSize": 29, "fontWeight": "normal", "color": "black", "baseline": "alphabetic", "offset": 31, "dx": 47},
      "encoding": {
        "x": {"field": "x", "type": "quantitative", "scale": {"domain": [-3.3, 222.8], "nice": false, "zero": false},
              "axis": {"values": [0, 50, 100, 150, 200], "labelPadding": 12, "title": "Number of OFDM symbols", "titleFontSize": 25, "titleX": 445.6, "titleY": 59.3, "titleBaseline": "alphabetic"}},
        "y": {"field": "y", "type": "quantitative", "scale": {"type": "log", "domain": [1e-14, 0.01], "nice": false},
              "axis": {"values": [1e-14, 1e-12, 1e-10, 1e-8, 1e-6, 0.0001, 0.01], "labelPadding": 23, "labelFontSize": 23, "labelExpr": "'10'",
                       "title": "Normalized MSE of CFO and SFO estimates", "titleFontSize": 24.5, "titleX": -74.8, "titleY": 324, "titleBaseline": "alphabetic"}}
      },
      "layer": [
        {"data": {"name": "cfosfo"}, "mark": {"type": "line", "clip": true, "strokeWidth": 3},
         "encoding": {"color": {"field": "param", "type": "nominal", "scale": {"domain": ["CFO", "SFO"], "range": ["#0000ff", "#ff0000"]}, "legend": null},
                      "strokeDash": {"field": "est", "type": "nominal", "scale": {"domain": ["ff1", "ff099", "crlb"], "range": [[1, 0], [3, 5], [15, 7]]}, "legend": null}}},
        {"data": {"name": "cfoFrame"}, "mark": {"type": "rule", "color": "black", "strokeWidth": 1.5},
         "encoding": {"x2": {"field": "x2"}, "y2": {"field": "y2"}}},
        {"data": {"name": "cfoTicks"}, "transform": [{"filter": "datum.side == 'left'"}],
         "mark": {"type": "tick", "orient": "horizontal", "size": 9, "xOffset": 4.5}},
        {"data": {"name": "cfoTicks"}, "transform": [{"filter": "datum.side == 'bottom'"}],
         "mark": {"type": "tick", "orient": "vertical", "size": 9, "yOffset": -4.5}},
        {"data": {"name": "cfoTicks"}, "transform": [{"filter": "datum.side == 'top'"}],
         "mark": {"type": "tick", "orient": "vertical", "size": 9, "yOffset": 4.5}},
        {"data": {"name": "cfoExp"},
         "mark": {"type": "text", "align": "left", "baseline": "alphabetic", "fontSize": 16, "dx": -34.8, "dy": -9},
         "encoding": {"text": {"field": "exp"}}},
        {"data": {"name": "cfoBox"},
         "mark": {"type": "rect", "fillOpacity": 0, "stroke": "#333333", "strokeWidth": 1, "strokeDash": [14, 12]},
         "encoding": {"x2": {"field": "x2"}, "y2": {"field": "y2"}}},
        {"data": {"name": "cfoInfo"},
         "mark": {"type": "text", "align": "left", "baseline": "alphabetic", "fontSize": 25.5},
         "encoding": {"text": {"field": "label"}}},
        {"data": {"name": "cfoNotes"},
         "mark": {"type": "text", "align": "center", "baseline": "alphabetic", "fontSize": 25},
         "encoding": {"text": {"field": "label"}}},
        {"data": {"name": "cfoRings"}, "transform": [{"filter": "datum.note == 'CFO'"}],
         "mark": {"type": "point", "shape": "M0,-1C0.1121,-1,0.203,-0.5523,0.203,0C0.203,0.5523,0.1121,1,0,1C-0.1121,1,-0.203,0.5523,-0.203,0C-0.203,-0.5523,-0.1121,-1,0,-1Z", "size": 40000, "filled": false, "color": "black", "opacity": 1, "strokeWidth": 1}},
        {"data": {"name": "cfoRings"}, "transform": [{"filter": "datum.note == 'SFO'"}],
         "mark": {"type": "point", "shape": "M0,-1C0.153,-1,0.277,-0.5523,0.277,0C0.277,0.5523,0.153,1,0,1C-0.153,1,-0.277,0.5523,-0.277,0C-0.277,-0.5523,-0.153,-1,0,-1Z", "size": 20909, "filled": false, "color": "black", "opacity": 1, "strokeWidth": 1}},
        {"data": {"name": "cfoArrows"}, "transform": [{"filter": {"field": "arrow", "oneOf": ["ff1-cfo", "ff1-sfo"]}}],
         "mark": {"type": "line", "color": "#808080", "strokeWidth": 1.5},
         "encoding": {"detail": {"field": "arrow"}}},
        {"data": {"name": "cfoArrows"}, "transform": [{"filter": {"field": "arrow", "oneOf": ["ff099-cfo", "ff099-sfo"]}}],
         "mark": {"type": "line", "color": "black", "strokeWidth": 1},
         "encoding": {"detail": {"field": "arrow"}}},
        {"data": {"name": "cfoArrows"}, "transform": [{"filter": {"field": "arrow", "oneOf": ["cfo", "sfo", "crlb-cfo", "crlb-sfo"]}}],
         "mark": {"type": "line", "color": "black", "strokeWidth": 1.2},
         "encoding": {"detail": {"field": "arrow"}}},
        {"data": {"name": "cfoArrows"}, "transform": [{"filter": {"and": [{"field": "end", "equal": "tip"}, {"field": "arrow", "oneOf": ["cfo", "ff1-cfo", "ff1-sfo", "crlb-sfo"]}]}}],
         "mark": {"type": "point", "shape": "M0,0L0.5,1.2L0,0.8L-0.5,1.2Z", "size": 784, "filled": true, "color": "black", "opacity": 1, "strokeWidth": 0, "angle": 180}},
        {"data": {"name": "cfoArrows"}, "transform": [{"filter": {"and": [{"field": "end", "equal": "tip"}, {"field": "arrow", "oneOf": ["sfo", "crlb-cfo"]}]}}],
         "mark": {"type": "point", "shape": "M0,0L0.5,1.2L0,0.8L-0.5,1.2Z", "size": 784, "filled": true, "color": "black", "opacity": 1, "strokeWidth": 0, "angle": 0}},
        {"data": {"name": "cfoArrows"}, "transform": [{"filter": {"and": [{"field": "end", "equal": "tip"}, {"field": "arrow", "equal": "ff099-cfo"}]}}],
         "mark": {"type": "point", "shape": "M0,0L0.5,1.2L0,0.8L-0.5,1.2Z", "size": 784, "filled": true, "color": "black", "opacity": 1, "strokeWidth": 0, "angle": 145}},
        {"data": {"name": "cfoArrows"}, "transform": [{"filter": {"and": [{"field": "end", "equal": "tip"}, {"field": "arrow", "equal": "ff099-sfo"}]}}],
         "mark": {"type": "point", "shape": "M0,0L0.5,1.2L0,0.8L-0.5,1.2Z", "size": 784, "filled": true, "color": "black", "opacity": 1, "strokeWidth": 0, "angle": 127}}
      ]
    }
  ]
}
